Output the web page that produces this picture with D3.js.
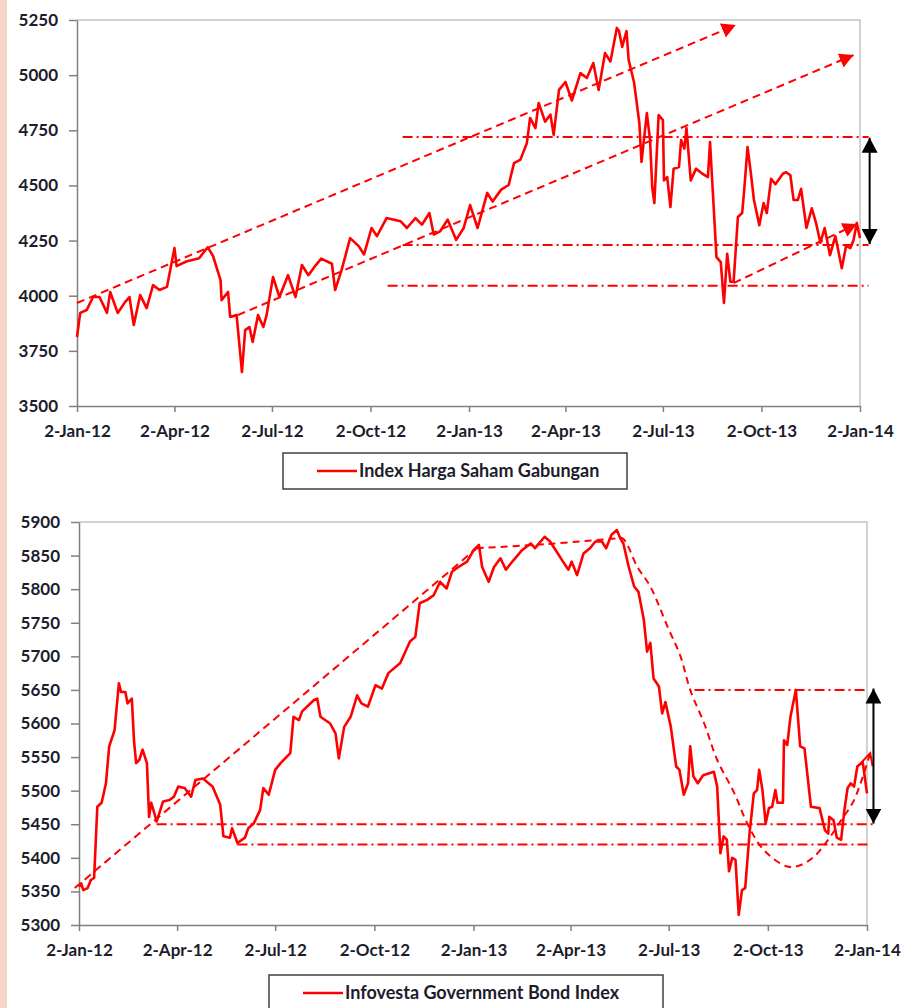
<!DOCTYPE html>
<html>
<head>
<meta charset="utf-8">
<script src="https://cdn.jsdelivr.net/npm/d3@7"></script>
<style>
	body { margin: 0; background: #fff; }
	svg { display: block; }
	text { font-family: Lato, "Liberation Sans", sans-serif; font-weight: 700; fill: #1c1c2c; }
</style>
</head>
<body>
<svg id="page" width="902" height="1008"></svg>
<script>

function whenDocumentLoaded(action) {
	if (document.readyState === "loading") {
		document.addEventListener("DOMContentLoaded", action);
	} else {
		action();
	}
}

// shared time axis
const X_DOMAIN = ['2012-01-02', '2014-01-02'];
const X_TICKS = ['2012-01-02', '2012-04-02', '2012-07-02', '2012-10-02', '2013-01-02',
	'2013-04-02', '2013-07-02', '2013-10-02', '2014-01-02'];

// Index Harga Saham Gabungan (top chart)
const IHSG_NAME = 'Index Harga Saham Gabungan';
const IHSG_Y_TICKS = [3500, 3750, 4000, 4250, 4500, 4750, 5000, 5250];
const IHSG_SERIES = [
	['2012-01-02', 3813], ['2012-01-05', 3922], ['2012-01-11', 3935], ['2012-01-17', 3994],
	['2012-01-23', 3994], ['2012-01-30', 3922], ['2012-02-02', 4017], ['2012-02-09', 3922],
	['2012-02-16', 3972], ['2012-02-20', 3994], ['2012-02-24', 3867], ['2012-03-01', 4003],
	['2012-03-07', 3944], ['2012-03-13', 4048], ['2012-03-19', 4026], ['2012-03-26', 4040],
	['2012-04-02', 4216], ['2012-04-04', 4134], ['2012-04-13', 4155], ['2012-04-25', 4170],
	['2012-05-03', 4220], ['2012-05-08', 4180], ['2012-05-15', 4071], ['2012-05-16', 3980],
	['2012-05-22', 4017], ['2012-05-24', 3904], ['2012-05-30', 3912], ['2012-06-04', 3654],
	['2012-06-07', 3844], ['2012-06-11', 3858], ['2012-06-14', 3790], ['2012-06-19', 3912],
	['2012-06-24', 3858], ['2012-06-27', 3912], ['2012-07-03', 4085], ['2012-07-09', 3994],
	['2012-07-17', 4093], ['2012-07-24', 3994], ['2012-07-30', 4139], ['2012-08-05', 4093],
	['2012-08-12', 4139], ['2012-08-17', 4168], ['2012-08-27', 4145], ['2012-08-30', 4026],
	['2012-09-05', 4116], ['2012-09-13', 4261], ['2012-09-21', 4225], ['2012-09-26', 4187],
	['2012-10-03', 4307], ['2012-10-08', 4270], ['2012-10-17', 4352], ['2012-10-30', 4338],
	['2012-11-05', 4307], ['2012-11-13', 4352], ['2012-11-19', 4322], ['2012-11-26', 4375],
	['2012-11-30', 4277], ['2012-12-06', 4292], ['2012-12-13', 4345], ['2012-12-21', 4253],
	['2012-12-28', 4307], ['2013-01-03', 4411], ['2013-01-10', 4307], ['2013-01-15', 4396],
	['2013-01-19', 4466], ['2013-01-24', 4427], ['2013-02-01', 4481], ['2013-02-08', 4502],
	['2013-02-13', 4601], ['2013-02-19', 4617], ['2013-02-25', 4692], ['2013-02-28', 4806],
	['2013-03-05', 4760], ['2013-03-08', 4874], ['2013-03-14', 4789], ['2013-03-19', 4821],
	['2013-03-22', 4729], ['2013-03-27', 4933], ['2013-04-02', 4969], ['2013-04-08', 4885],
	['2013-04-16', 5009], ['2013-04-22', 4987], ['2013-04-28', 5055], ['2013-05-03', 4933],
	['2013-05-09', 5100], ['2013-05-14', 5062], ['2013-05-20', 5214], ['2013-05-22', 5200],
	['2013-05-25', 5128], ['2013-05-29', 5200], ['2013-05-31', 5069], ['2013-06-05', 4969],
	['2013-06-10', 4783], ['2013-06-12', 4606], ['2013-06-17', 4828], ['2013-06-20', 4706],
	['2013-06-22', 4493], ['2013-06-24', 4420], ['2013-06-28', 4819], ['2013-07-02', 4796],
	['2013-07-03', 4523], ['2013-07-06', 4538], ['2013-07-09', 4402], ['2013-07-12', 4576],
	['2013-07-17', 4583], ['2013-07-19', 4706], ['2013-07-22', 4667], ['2013-07-24', 4760],
	['2013-07-28', 4523], ['2013-08-02', 4576], ['2013-08-07', 4556], ['2013-08-13', 4538],
	['2013-08-15', 4697], ['2013-08-21', 4175], ['2013-08-25', 4152], ['2013-08-28', 3967],
	['2013-08-31', 4190], ['2013-09-03', 4063], ['2013-09-06', 4063], ['2013-09-10', 4357],
	['2013-09-14', 4375], ['2013-09-16', 4485], ['2013-09-19', 4674], ['2013-09-22', 4560],
	['2013-09-25', 4434], ['2013-09-30', 4320], ['2013-10-04', 4420], ['2013-10-07', 4375],
	['2013-10-11', 4530], ['2013-10-15', 4505], ['2013-10-22', 4553], ['2013-10-25', 4560],
	['2013-10-29', 4546], ['2013-11-01', 4434], ['2013-11-05', 4434], ['2013-11-08', 4485],
	['2013-11-13', 4307], ['2013-11-18', 4396], ['2013-11-22', 4329], ['2013-11-26', 4240],
	['2013-11-30', 4307], ['2013-12-05', 4184], ['2013-12-10', 4270], ['2013-12-16', 4125],
	['2013-12-20', 4225], ['2013-12-24', 4216], ['2013-12-27', 4253], ['2013-12-30', 4330],
	['2014-01-02', 4262]
];
// hand drawn annotations, in data units
const IHSG_TRENDS = [
	[['2012-01-02', 3967], ['2013-09-08', 5227]],
	[['2012-05-31', 3912], ['2013-12-27', 5091]],
	[['2013-09-06', 4057], ['2013-12-30', 4325]]
];
const IHSG_LEVELS = [
	{from: '2012-11-01', to: '2014-01-10', value: 4720},
	{from: '2012-11-01', to: '2014-01-10', value: 4230},
	{from: '2012-10-18', to: '2014-01-10', value: 4045}
];
const IHSG_RANGE = {date: '2014-01-11', values: [4716, 4234]};

// Infovesta Government Bond Index (bottom chart)
const BOND_NAME = 'Infovesta Government Bond Index';
const BOND_Y_TICKS = [5300, 5350, 5400, 5450, 5500, 5550, 5600, 5650, 5700, 5750, 5800, 5850, 5900];
const BOND_SERIES = [
	['2012-01-02', 5357], ['2012-01-04', 5362], ['2012-01-06', 5352], ['2012-01-10', 5355],
	['2012-01-13', 5367], ['2012-01-16', 5370], ['2012-01-19', 5476], ['2012-01-23', 5482],
	['2012-01-27', 5511], ['2012-01-30', 5566], ['2012-02-04', 5590], ['2012-02-08', 5660],
	['2012-02-10', 5647], ['2012-02-14', 5647], ['2012-02-16', 5630], ['2012-02-20', 5637],
	['2012-02-22', 5575], ['2012-02-24', 5541], ['2012-02-27', 5546], ['2012-03-01', 5561],
	['2012-03-05', 5541], ['2012-03-07', 5461], ['2012-03-09', 5482], ['2012-03-12', 5466],
	['2012-03-14', 5454], ['2012-03-20', 5484], ['2012-03-26', 5486], ['2012-03-30', 5491],
	['2012-04-03', 5506], ['2012-04-09', 5504], ['2012-04-15', 5491], ['2012-04-19', 5516],
	['2012-04-26', 5518], ['2012-05-05', 5506], ['2012-05-12', 5479], ['2012-05-15', 5432],
	['2012-05-21', 5430], ['2012-05-23', 5444], ['2012-05-28', 5422], ['2012-06-04', 5430],
	['2012-06-07', 5444], ['2012-06-12', 5451], ['2012-06-18', 5471], ['2012-06-21', 5504],
	['2012-06-26', 5494], ['2012-07-02', 5531], ['2012-07-07', 5541], ['2012-07-16', 5556],
	['2012-07-19', 5610], ['2012-07-24', 5605], ['2012-07-27', 5618], ['2012-08-07', 5635],
	['2012-08-10', 5637], ['2012-08-13', 5610], ['2012-08-22', 5600], ['2012-08-27', 5585],
	['2012-08-30', 5548], ['2012-09-04', 5595], ['2012-09-10', 5610], ['2012-09-16', 5642],
	['2012-09-20', 5630], ['2012-09-26', 5625], ['2012-10-03', 5657], ['2012-10-09', 5652],
	['2012-10-15', 5675], ['2012-10-26', 5690], ['2012-11-04', 5722], ['2012-11-09', 5729],
	['2012-11-13', 5779], ['2012-11-20', 5784], ['2012-11-26', 5791], ['2012-12-02', 5811],
	['2012-12-08', 5801], ['2012-12-13', 5826], ['2012-12-19', 5833], ['2012-12-27', 5841],
	['2013-01-02', 5858], ['2013-01-07', 5866], ['2013-01-10', 5833], ['2013-01-16', 5811],
	['2013-01-21', 5833], ['2013-01-27', 5846], ['2013-02-01', 5829], ['2013-02-08', 5843],
	['2013-02-16', 5858], ['2013-02-24', 5868], ['2013-02-28', 5861], ['2013-03-09', 5878],
	['2013-03-14', 5871], ['2013-03-20', 5856], ['2013-03-26', 5841], ['2013-03-31', 5829],
	['2013-04-03', 5841], ['2013-04-08', 5821], ['2013-04-14', 5853], ['2013-04-20', 5861],
	['2013-04-25', 5871], ['2013-05-01', 5871], ['2013-05-05', 5861], ['2013-05-10', 5881],
	['2013-05-15', 5888], ['2013-05-18', 5876], ['2013-05-21', 5868], ['2013-05-26', 5833],
	['2013-05-31', 5804], ['2013-06-04', 5796], ['2013-06-09', 5754], ['2013-06-12', 5707],
	['2013-06-15', 5720], ['2013-06-18', 5667], ['2013-06-23', 5655], ['2013-06-26', 5615],
	['2013-06-29', 5632], ['2013-07-04', 5595], ['2013-07-09', 5536], ['2013-07-12', 5531],
	['2013-07-16', 5494], ['2013-07-20', 5511], ['2013-07-22', 5566], ['2013-07-25', 5521],
	['2013-07-29', 5511], ['2013-08-03', 5523], ['2013-08-13', 5528], ['2013-08-16', 5506],
	['2013-08-19', 5407], ['2013-08-22', 5432], ['2013-08-25', 5427], ['2013-08-27', 5380],
	['2013-08-30', 5400], ['2013-09-02', 5397], ['2013-09-05', 5315], ['2013-09-08', 5352],
	['2013-09-11', 5355], ['2013-09-15', 5436], ['2013-09-19', 5496], ['2013-09-22', 5501],
	['2013-09-24', 5531], ['2013-09-27', 5501], ['2013-09-30', 5451], ['2013-10-03', 5474],
	['2013-10-06', 5476], ['2013-10-09', 5501], ['2013-10-11', 5482], ['2013-10-16', 5482],
	['2013-10-17', 5575], ['2013-10-20', 5568], ['2013-10-23', 5610], ['2013-10-28', 5650],
	['2013-11-01', 5566], ['2013-11-05', 5563], ['2013-11-11', 5476], ['2013-11-19', 5474],
	['2013-11-24', 5441], ['2013-11-27', 5436], ['2013-11-28', 5461], ['2013-12-02', 5456],
	['2013-12-05', 5430], ['2013-12-09', 5427], ['2013-12-12', 5471], ['2013-12-15', 5504],
	['2013-12-18', 5511], ['2013-12-21', 5506], ['2013-12-24', 5536], ['2013-12-29', 5543],
	['2014-01-02', 5496]
];
const BOND_TRENDS = [
	[['2011-12-29', 5355], ['2013-01-05', 5861]]
];
const BOND_CURVE = [
	['2013-01-05', 5861], ['2013-03-10', 5867], ['2013-05-11', 5875], ['2013-05-20', 5876],
	['2013-06-03', 5833], ['2013-06-15', 5804], ['2013-07-01', 5744], ['2013-07-13', 5700],
	['2013-07-22', 5650], ['2013-08-04', 5600], ['2013-08-16', 5546], ['2013-09-01', 5496],
	['2013-09-13', 5451], ['2013-09-28', 5412], ['2013-10-20', 5387], ['2013-11-01', 5389],
	['2013-11-14', 5402], ['2013-11-27', 5427], ['2013-12-09', 5456], ['2013-12-21', 5486],
	['2014-01-05', 5556]
];
const BOND_LEVELS = [
	{from: '2013-07-26', to: '2014-01-03', value: 5650},
	{from: '2012-03-14', to: '2014-01-08', value: 5450},
	{from: '2012-05-28', to: '2014-01-03', value: 5420}
];
const BOND_RANGE = {date: '2014-01-08', values: [5652, 5451]};

const RED = '#ff0000';
const parse_date = d3.timeParse('%Y-%m-%d');
const format_date = d3.timeFormat('%-d-%b-%y');

function add_markers(svg) {
	const defs = svg.append('defs');
	defs.append('marker')
		.attr('id', 'head-red')
		.attr('markerUnits', 'userSpaceOnUse')
		.attr('markerWidth', 15).attr('markerHeight', 15)
		.attr('refX', 14).attr('refY', 7.5)
		.attr('orient', 'auto')
		.append('path')
			.attr('d', 'M0,0 L14,7.5 L0,15 Z')
			.attr('fill', RED);
	defs.append('marker')
		.attr('id', 'head-black')
		.attr('markerUnits', 'userSpaceOnUse')
		.attr('markerWidth', 16).attr('markerHeight', 16)
		.attr('refX', 15).attr('refY', 8)
		.attr('orient', 'auto-start-reverse')
		.append('path')
			.attr('d', 'M0,0 L15,8 L0,16 Z')
			.attr('fill', '#000');
	defs.append('marker')
		.attr('id', 'head-open')
		.attr('markerUnits', 'userSpaceOnUse')
		.attr('markerWidth', 16).attr('markerHeight', 14)
		.attr('refX', 13).attr('refY', 6)
		.attr('orient', 'auto')
		.append('path')
			.attr('d', 'M1,0 L13,6 L1,12')
			.attr('fill', 'none')
			.attr('stroke', RED)
			.attr('stroke-width', 2);
}

class IndexChart {
	constructor(svg, box, opts) {
		this.svg = svg;
		const g = svg.append('g');

		const x = d3.scaleTime()
			.domain(X_DOMAIN.map(parse_date))
			.range([box.left, box.right]);
		const y = d3.scaleLinear()
			.domain([opts.y_ticks[0], opts.y_ticks[opts.y_ticks.length - 1]])
			.range([box.bottom, box.top]);

		// light frame on top and right
		g.append('path')
			.attr('d', `M${box.left},${box.top}H${box.right}V${box.bottom}`)
			.attr('fill', 'none')
			.attr('stroke', '#c4c4c4')
			.attr('stroke-width', 1.5);

		const y_axis = g.append('g')
			.attr('transform', `translate(${box.left},0)`)
			.call(d3.axisLeft(y).tickValues(opts.y_ticks).tickFormat(d3.format('d'))
				.tickSize(8).tickSizeOuter(0).tickPadding(11));
		const x_axis = g.append('g')
			.attr('transform', `translate(0,${box.bottom})`)
			.call(d3.axisBottom(x).tickValues(X_TICKS.map(parse_date)).tickFormat(format_date)
				.tickSize(6).tickSizeOuter(0).tickPadding(13));
		[y_axis, x_axis].forEach(a => {
			a.attr('font-size', null).attr('font-family', null);
			a.select('.domain').attr('stroke', '#808080').attr('stroke-width', 1.5);
			a.selectAll('.tick line').attr('stroke', '#808080').attr('stroke-width', 1.5);
			a.selectAll('text').style('font-size', '17px');
		});

		const dashed = g.append('g')
			.attr('fill', 'none')
			.attr('stroke', RED)
			.attr('stroke-width', 2);

		// dash-dot support / resistance levels
		dashed.selectAll('line.level')
			.data(opts.levels)
			.enter()
			.append('line')
				.classed('level', true)
				.attr('x1', d => x(parse_date(d.from)))
				.attr('x2', d => x(parse_date(d.to)))
				.attr('y1', d => y(d.value))
				.attr('y2', d => y(d.value))
				.attr('stroke-dasharray', '10,4,2,4');

		// trend lines with arrow heads
		dashed.selectAll('line.trend')
			.data(opts.trends)
			.enter()
			.append('line')
				.classed('trend', true)
				.attr('x1', d => x(parse_date(d[0][0])))
				.attr('y1', d => y(d[0][1]))
				.attr('x2', d => x(parse_date(d[1][0])))
				.attr('y2', d => y(d[1][1]))
				.attr('stroke-dasharray', '8,5')
				.attr('marker-end', opts.head ? `url(#${opts.head})` : null);

		if (opts.curve) {
			const curve_line = d3.line()
				.x(d => x(parse_date(d[0])))
				.y(d => y(d[1]))
				.curve(d3.curveCatmullRom);
			dashed.append('path')
				.attr('d', curve_line(opts.curve))
				.attr('stroke-dasharray', '7,5')
				.attr('marker-end', 'url(#head-open)');
		}

		// the index itself
		const line = d3.line()
			.x(d => x(parse_date(d[0])))
			.y(d => y(d[1]));
		g.append('path')
			.attr('d', line(opts.series))
			.attr('fill', 'none')
			.attr('stroke', RED)
			.attr('stroke-width', 2.6)
			.attr('stroke-linejoin', 'round');

		// black range arrow on the right
		const rx = x(parse_date(opts.range.date));
		g.append('line')
			.attr('x1', rx).attr('x2', rx)
			.attr('y1', y(opts.range.values[0]))
			.attr('y2', y(opts.range.values[1]))
			.attr('stroke', '#000')
			.attr('stroke-width', 2)
			.attr('marker-start', 'url(#head-black)')
			.attr('marker-end', 'url(#head-black)');

		// legend box
		const lg = g.append('g');
		lg.append('rect')
			.attr('x', opts.legend.x).attr('y', opts.legend.y)
			.attr('width', opts.legend.w).attr('height', opts.legend.h)
			.attr('fill', '#fff')
			.attr('stroke', '#404040')
			.attr('stroke-width', 1.5);
		lg.append('line')
			.attr('x1', opts.legend.x + 34).attr('x2', opts.legend.x + 74)
			.attr('y1', opts.legend.y + 18).attr('y2', opts.legend.y + 18)
			.attr('stroke', RED)
			.attr('stroke-width', 2.6);
		lg.append('text')
			.text(opts.name)
			.attr('x', opts.legend.x + 76)
			.attr('y', opts.legend.y + 24)
			.style('font-size', '18px');
	}
}

whenDocumentLoaded(() => {
	const svg = d3.select('#page');

	svg.append('rect')
		.attr('width', 902).attr('height', 1008)
		.attr('fill', '#fff');
	// pinkish page edge
	svg.append('rect')
		.attr('width', 7).attr('height', 1008)
		.attr('fill', '#f4d5c7');

	add_markers(svg);

	new IndexChart(svg, {left: 77, right: 860, top: 20, bottom: 406}, {
		name: IHSG_NAME,
		y_ticks: IHSG_Y_TICKS,
		series: IHSG_SERIES,
		trends: IHSG_TRENDS,
		levels: IHSG_LEVELS,
		range: IHSG_RANGE,
		head: 'head-red',
		legend: {x: 283, y: 453, w: 344, h: 36}
	});

	new IndexChart(svg, {left: 79, right: 867, top: 522, bottom: 925}, {
		name: BOND_NAME,
		y_ticks: BOND_Y_TICKS,
		series: BOND_SERIES,
		trends: BOND_TRENDS,
		curve: BOND_CURVE,
		levels: BOND_LEVELS,
		range: BOND_RANGE,
		head: null,
		legend: {x: 269, y: 975, w: 394, h: 40}
	});
});
</script>
</body>
</html>
